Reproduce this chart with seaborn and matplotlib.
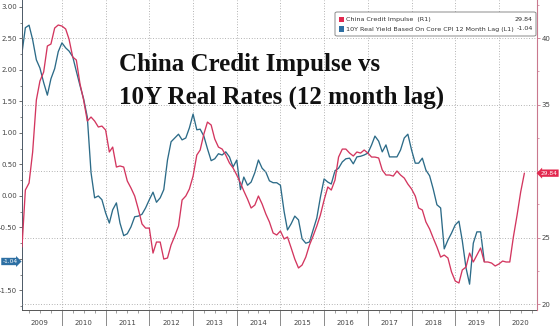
import matplotlib
matplotlib.use("Agg")
import matplotlib.pyplot as plt
import matplotlib.dates as mdates
from matplotlib.ticker import MultipleLocator, FuncFormatter
from matplotlib.patches import FancyBboxPatch, Rectangle
import pandas as pd
import seaborn as sns

# Monthly series, starting February 2009
credit_start = "2009-02-01"
credit_impulse = [
    24.29, 28.57, 29.10, 31.43, 35.34, 36.77, 37.44, 39.40, 39.55, 40.75,
    40.98, 40.90, 40.68, 39.92, 38.57, 38.35, 36.54, 35.34, 33.76, 34.06,
    33.76, 33.31, 33.38, 33.08, 31.43, 31.80, 30.30, 30.38, 30.30, 29.25,
    28.72, 28.12, 27.14, 26.02, 25.71, 25.71, 23.83, 24.66, 24.66, 23.38,
    23.46, 24.44, 25.11, 25.86, 27.82, 28.12, 28.65, 29.62, 31.20, 31.58,
    32.78, 33.68, 33.46, 32.41, 31.80, 31.65, 31.20, 30.60, 30.23, 29.70,
    29.10, 28.50, 27.89, 27.22, 27.44, 28.12, 27.52, 26.77, 26.17, 25.34,
    25.19, 25.49, 24.89, 25.04, 24.21, 23.38, 22.71, 22.93, 23.53, 24.44,
    25.11, 25.86, 26.69, 27.82, 28.80, 28.57, 29.32, 31.05, 31.65, 31.65,
    31.35, 31.13, 31.43, 31.35, 31.58, 31.35, 31.05, 31.05, 30.98, 30.08,
    29.70, 29.70, 29.62, 30.00, 29.70, 29.47, 29.02, 28.65, 28.12, 27.22,
    27.07, 26.17, 25.64, 24.96, 24.29, 23.53, 23.68, 23.46, 22.41, 21.73,
    21.58, 22.56, 22.78, 23.83, 23.16, 23.68, 24.21, 23.16, 23.16, 23.08,
    22.86, 23.01, 23.23, 23.16, 23.16, 25.04, 26.69, 28.42, 29.84,
]
real_yield = [
    2.27, 2.67, 2.71, 2.48, 2.16, 2.03, 1.80, 1.60, 1.86, 2.02,
    2.29, 2.43, 2.35, 2.30, 2.21, 1.98, 1.75, 1.54, 1.25, 0.37,
    -0.03, 0.00, -0.06, -0.27, -0.43, -0.22, -0.11, -0.43, -0.63, -0.60,
    -0.49, -0.33, -0.32, -0.29, -0.19, -0.06, 0.06, -0.10, -0.03, 0.10,
    0.57, 0.86, 0.92, 0.98, 0.89, 0.92, 1.08, 1.30, 1.05, 1.06,
    0.95, 0.75, 0.56, 0.59, 0.67, 0.65, 0.70, 0.62, 0.46, 0.57,
    0.10, 0.30, 0.17, 0.22, 0.37, 0.57, 0.44, 0.38, 0.24, 0.21,
    0.21, 0.17, -0.25, -0.54, -0.44, -0.32, -0.38, -0.68, -0.75, -0.73,
    -0.54, -0.35, -0.02, 0.27, 0.22, 0.19, 0.40, 0.44, 0.54, 0.59,
    0.60, 0.51, 0.62, 0.63, 0.65, 0.68, 0.81, 0.95, 0.87, 0.70,
    0.81, 0.62, 0.62, 0.62, 0.73, 0.92, 0.98, 0.73, 0.52, 0.52,
    0.60, 0.41, 0.32, 0.11, -0.14, -0.19, -0.84, -0.70, -0.59, -0.46,
    -0.40, -0.71, -1.14, -1.40, -0.75, -0.57, -0.57, -1.04,
]
credit_label = "China Credit Impulse  (R1)"
yield_label = "10Y Real Yield Based On Core CPI 12 Month Lag (L1)"
title_lines = ["China Credit Impulse vs", "10Y Real Rates (12 month lag)"]

RED = "#d3365f"
BLUE = "#2c6b88"
RED_TAG = "#e2294f"
BLUE_TAG = "#2d6fa3"
GRID = "#9a9a9a"
TXT = "#444444"

credit_df = pd.DataFrame({
    "date": pd.date_range(credit_start, periods=len(credit_impulse), freq="MS"),
    "value": credit_impulse,
})
yield_df = pd.DataFrame({
    "date": pd.date_range(credit_start, periods=len(real_yield), freq="MS"),
    "value": real_yield,
})

sns.set_theme(style="white")
plt.rcParams["font.family"] = ["DejaVu Sans"]

W, H = 560, 326
fig = plt.figure(figsize=(W / 100, H / 100), dpi=100)
fig.patch.set_facecolor("white")
ax = fig.add_axes([22 / W, 16 / H, 515 / W, 310 / H])
ax2 = ax.twinx()

sns.lineplot(data=yield_df, x="date", y="value", ax=ax, color=BLUE,
             linewidth=0.95, legend=False)
sns.lineplot(data=credit_df, x="date", y="value", ax=ax2, color=RED,
             linewidth=0.95, legend=False)

# axis ranges
x0 = pd.Timestamp(credit_start)
x1 = x0 + pd.Timedelta(days=365.25 * 11.785)
ax.set_xlim(x0, x1)
ax.set_ylim(-1.81, 3.11)
ax2.set_ylim(19.55, 42.86)

for a in (ax, ax2):
    a.set_xlabel("")
    a.set_ylabel("")
    a.set_facecolor("none")

# x axis: year boundaries as long ticks, year labels centred mid-year
ax.xaxis.set_major_locator(mdates.YearLocator())
ax.xaxis.set_major_formatter(FuncFormatter(lambda v, p: ""))
ax.xaxis.set_minor_locator(mdates.MonthLocator(bymonth=[4, 7, 10]))
ax.xaxis.set_minor_formatter(FuncFormatter(
    lambda v, p: str(mdates.num2date(v).year) if mdates.num2date(v).month == 7 else ""))
ax.tick_params(axis="x", which="major", length=12, width=0.6, color="#777777",
               direction="out", bottom=True)
ax.tick_params(axis="x", which="minor", length=1.8, width=0.5, color="#777777",
               direction="out", bottom=True, labelsize=5, labelcolor=TXT, pad=5.5)

# left axis (the -1.00 level sits under the last-value tag)
ax.yaxis.set_major_locator(MultipleLocator(0.5))
ax.yaxis.set_minor_locator(MultipleLocator(0.25))
ax.yaxis.set_major_formatter(FuncFormatter(
    lambda v, p: "" if abs(v + 1.0) < 1e-6 else f"{v:.2f}"))
ax.tick_params(axis="y", which="major", length=2.2, width=0.6, color="#555555",
               labelsize=5, labelcolor=TXT, pad=1.2, left=True)
ax.tick_params(axis="y", which="minor", length=1.4, width=0.5, color="#555555", left=True)

# right axis (the 30 level sits under the last-value tag)
ax2.yaxis.set_major_locator(MultipleLocator(5))
ax2.yaxis.set_minor_locator(MultipleLocator(2.5))
ax2.yaxis.set_major_formatter(FuncFormatter(lambda v, p: "" if round(v) == 30 else f"{v:.0f}"))
ax2.tick_params(axis="y", which="major", length=2.2, width=0.6, color="#c9788e",
                labelsize=5, labelcolor=TXT, pad=1.2, right=True)
ax2.tick_params(axis="y", which="minor", length=1.4, width=0.5, color="#c9788e", right=True)

# grid: dotted year lines and right-axis levels
ax.grid(axis="x", which="major", linestyle=(0, (1, 2.2)), color=GRID, linewidth=0.6)
ax.grid(axis="y", visible=False)
ax2.grid(axis="y", which="major", linestyle=(0, (1, 2.2)), color=GRID, linewidth=0.6)
ax2.grid(axis="x", visible=False)
ax2.set_axisbelow(True)

for a in (ax, ax2):
    a.spines["top"].set_visible(False)
ax.spines["left"].set_color("#4b5866")
ax.spines["left"].set_linewidth(0.7)
ax.spines["bottom"].set_color("#555555")
ax.spines["bottom"].set_linewidth(0.7)
ax.spines["right"].set_visible(False)
ax2.spines["left"].set_visible(False)
ax2.spines["bottom"].set_visible(False)
ax2.spines["right"].set_color("#c9788e")
ax2.spines["right"].set_linewidth(0.8)

# last-value tags on both axes
ax2.annotate(f"{credit_impulse[-1]:.2f}", xy=(1, credit_impulse[-1]),
             xycoords=ax2.get_yaxis_transform(), xytext=(2.6, 0),
             textcoords="offset points", ha="left", va="center",
             fontsize=4.2, color="white", annotation_clip=False, zorder=10,
             bbox=dict(boxstyle="larrow,pad=0.2", fc=RED_TAG, ec="none"))
ax.annotate(f"{real_yield[-1]:.2f}", xy=(0, real_yield[-1]),
            xycoords=ax.get_yaxis_transform(), xytext=(-3.2, 0),
            textcoords="offset points", ha="right", va="center",
            fontsize=4.2, color="white", annotation_clip=False, zorder=10,
            bbox=dict(boxstyle="rarrow,pad=0.2", fc=BLUE_TAG, ec="none"))

# legend box
def fx(px):
    return px / W

def fy(py):
    return 1 - py / H

fig.patches.append(FancyBboxPatch((fx(335), fy(36)), fx(201), 24 / H,
                                  boxstyle="round,pad=0,rounding_size=0.004",
                                  transform=fig.transFigure, fc="white",
                                  ec="#8a8a8a", lw=0.7, zorder=20))
rows = [(credit_label, f"{credit_impulse[-1]:.2f}", RED_TAG, 19.5),
        (yield_label, f"{real_yield[-1]:.2f}", BLUE_TAG, 29.0)]
for label, val, col, py in rows:
    fig.patches.append(Rectangle((fx(338.5), fy(py + 2.8)), 5 / W, 5.6 / H,
                                 transform=fig.transFigure, fc=col, ec="none", zorder=21))
    fig.text(fx(346), fy(py), label, fontsize=4.6, color="#333333",
             ha="left", va="center", zorder=22)
    fig.text(fx(533), fy(py), val, fontsize=4.6, color="#333333",
             ha="right", va="center", zorder=22)

# headline text
for txt, py in zip(title_lines, (65, 97)):
    fig.text(fx(119), fy(py), txt, fontsize=18, fontweight="bold",
             family=["Liberation Serif", "DejaVu Serif"], color="#111111",
             ha="left", va="center", zorder=15)

fig.savefig("out.png", dpi=100, facecolor="white")
